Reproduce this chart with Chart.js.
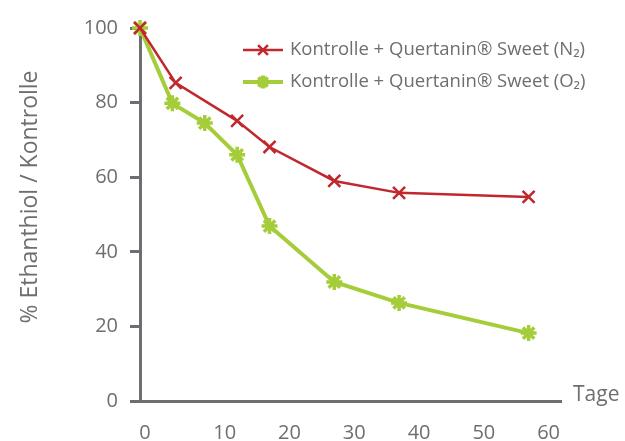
<!DOCTYPE html>
<html>
<head>
<meta charset="utf-8">
<script src="https://cdn.jsdelivr.net/npm/chart.js@4/dist/chart.umd.min.js"></script>
<style>
  html, body { margin: 0; padding: 0; background: #fff; }
  #wrap { width: 625px; height: 441px; position: relative; }
</style>
</head>
<body>
<div id="wrap"><canvas id="chart" width="625" height="441"></canvas></div>
<script>
// Daten
const daysN2 = [0, 5.5, 15, 20, 30, 40, 60];
const valuesN2 = [100, 85.3, 75.1, 68.1, 59, 55.8, 54.7];
const daysO2 = [0, 5, 10, 15, 20, 30, 40, 60];
const valuesO2 = [100, 79.8, 74.5, 66, 46.9, 31.9, 26.3, 18.2];
const xTicks = [0, 10, 20, 30, 40, 50, 60];
const yTicks = [0, 20, 40, 60, 80, 100];
const labelN2 = 'Kontrolle + Quertanin® Sweet (N₂)';
const labelO2 = 'Kontrolle + Quertanin® Sweet (O₂)';
const yTitle = '% Ethanthiol / Kontrolle';
const xTitle = 'Tage';

const GREY = '#6d6e71';
const RED = '#c1272d';
const GREEN = '#a5cd39';
const FONT = '"Open Sans", Lato, sans-serif';

function toPoints(xs, ys) {
    return xs.map((x, i) => ({ x: x, y: ys[i] }));
}

// Legende + Achsentitel selbst zeichnen
const extrasPlugin = {
    id: 'extras',
    afterDraw(chart) {
        const ctx = chart.ctx;
        ctx.save();
        ctx.fillStyle = GREY;
        ctx.font = '21px ' + FONT;
        ctx.textBaseline = 'middle';
        ctx.textAlign = 'left';
        ctx.fillText(xTitle, 573, 395);

        ctx.save();
        ctx.font = '23px ' + FONT;
        ctx.translate(30, 197);
        ctx.rotate(-Math.PI / 2);
        ctx.textAlign = 'center';
        ctx.fillText(yTitle, 0, 0);
        ctx.restore();

        const rows = [
            { ds: chart.data.datasets[0], y: 50 },
            { ds: chart.data.datasets[1], y: 82 }
        ];
        ctx.font = '18.5px ' + FONT;
        rows.forEach(r => {
            ctx.strokeStyle = r.ds.borderColor;
            ctx.lineWidth = r.ds.borderWidth;
            ctx.beginPath();
            ctx.moveTo(243, r.y);
            ctx.lineTo(283, r.y);
            ctx.stroke();
            if (Chart.helpers && Chart.helpers.drawPoint) {
                Chart.helpers.drawPoint(ctx, {
                    pointStyle: r.ds.pointStyle,
                    radius: r.ds.pointRadius - 1.5,
                    borderWidth: r.ds.pointBorderWidth,
                    rotation: 0
                }, 263, r.y);
            }
            ctx.fillStyle = GREY;
            ctx.fillText(r.ds.label, 290, r.y);
        });
        ctx.restore();
    }
};

new Chart(document.getElementById('chart'), {
    type: 'line',
    data: {
        datasets: [{
            label: labelN2,
            data: toPoints(daysN2, valuesN2),
            borderColor: RED,
            backgroundColor: RED,
            borderWidth: 2.5,
            pointStyle: 'crossRot',
            pointRadius: 8.5,
            pointBorderWidth: 2.5,
            pointBorderColor: RED,
            tension: 0,
            clip: false
        }, {
            label: labelO2,
            data: toPoints(daysO2, valuesO2),
            borderColor: GREEN,
            backgroundColor: GREEN,
            borderWidth: 4,
            pointStyle: 'star',
            pointRadius: 8,
            pointBorderWidth: 3.5,
            pointBorderColor: GREEN,
            tension: 0,
            clip: false
        }]
    },
    options: {
        responsive: false,
        animation: false,
        layout: { padding: { top: 28, right: 64, bottom: 0, left: 0 } },
        plugins: {
            legend: { display: false },
            tooltip: { enabled: false }
        },
        scales: {
            x: {
                type: 'linear',
                min: 0,
                max: 65,
                afterBuildTicks: scale => {
                    scale.ticks = xTicks.map(v => ({ value: v }));
                },
                afterFit: scale => { scale.height = 40; },
                grid: { display: false, drawTicks: false },
                border: { display: true, color: GREY, width: 3 },
                ticks: {
                    color: GREY,
                    font: { family: FONT, size: 20 },
                    padding: 20,
                    labelOffset: 20,
                    maxRotation: 0,
                    // die "0" sitzt im Original fast unter der Achse
                    callback: v => v === 0 ? '0\u2002\u2002\u2002' : String(v)
                }
            },
            y: {
                min: 0,
                max: 100,
                afterBuildTicks: scale => {
                    scale.ticks = yTicks.map(v => ({ value: v }));
                },
                afterFit: scale => { scale.width = 140; },
                grid: {
                    drawOnChartArea: false,
                    drawTicks: true,
                    tickLength: 10,
                    tickWidth: 3,
                    tickColor: GREY
                },
                border: { display: true, color: GREY, width: 3 },
                ticks: {
                    color: GREY,
                    font: { family: FONT, size: 20 },
                    padding: 12
                }
            }
        }
    },
    plugins: [extrasPlugin]
});
</script>
</body>
</html>
